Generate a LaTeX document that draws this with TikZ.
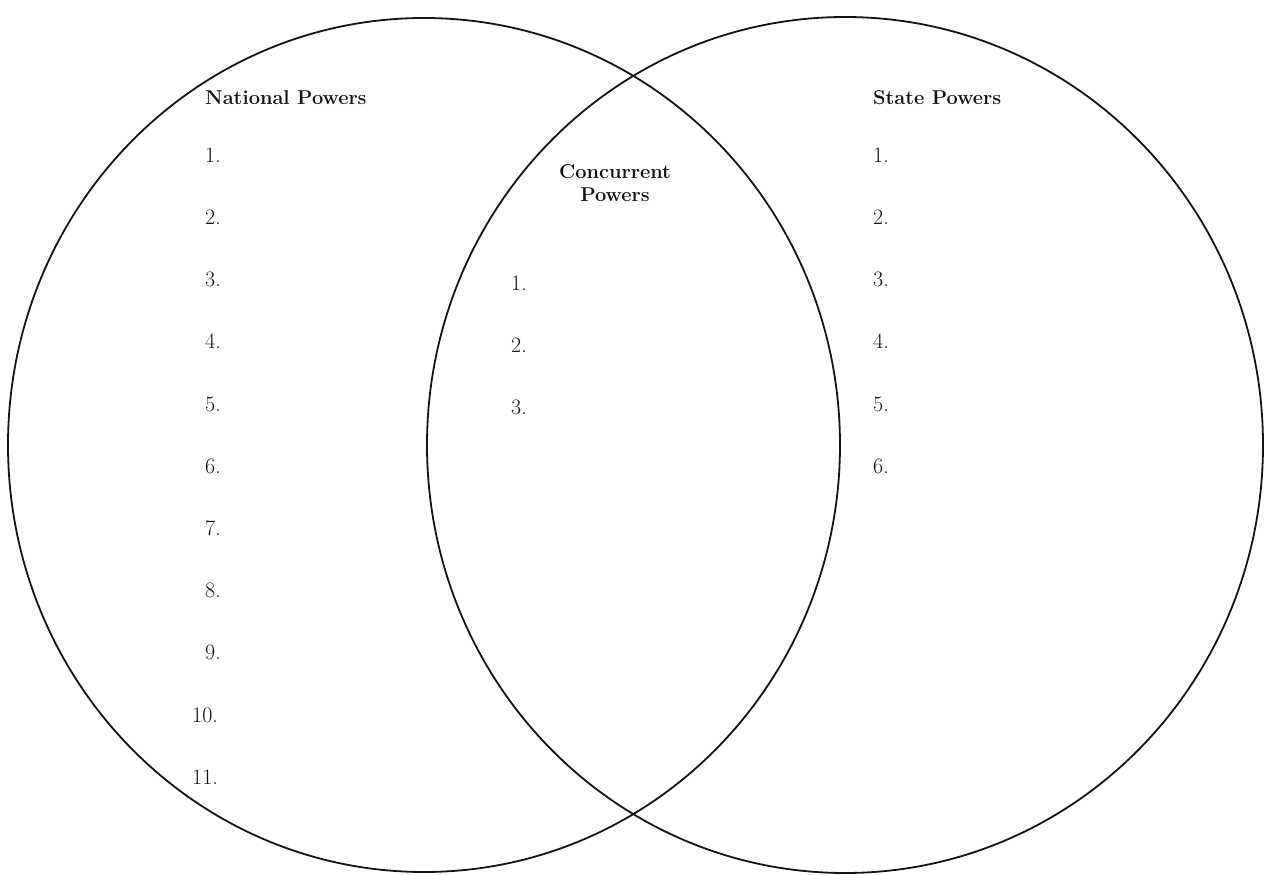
\documentclass[tikz,border=0pt]{standalone}
\usepackage{tikz}
\usetikzlibrary{positioning}
\definecolor{ink}{RGB}{20,20,20}

\begin{document}
\begin{tikzpicture}[x=1pt, y=-1pt, every node/.style={font=\fontsize{22}{25}\selectfont, text=ink, inner sep=0pt},
  head/.style={font=\fontsize{20}{23}\selectfont\bfseries, align=center},
  num/.style={anchor=base west},
  ring/.style={draw=ink, line width=1.8pt}]
  \useasboundingbox (0,0) rectangle (1270,875);
  \draw[ring] (424,445) ellipse [x radius=416pt, y radius=427pt];
  \draw[ring] (845,445) ellipse [x radius=418pt, y radius=428pt];
  \node[head, anchor=base west] (nat) at (205,104) {National Powers};
  \node[head, anchor=base west] (sta) at (873,104) {State Powers};
  \node[head] (con) at (615,183) {Concurrent\\Powers};
  \foreach \i in {1,...,9}
    \node[num] (nat\i) at (205,{100+62.2*\i}) {\i.};
  \foreach \i in {10,11}
    \node[num] (nat\i) at (192,{100+62.2*\i}) {\i.};
  \foreach \i in {1,2,3}
    \node[num] (con\i) at (511,{228+62*\i}) {\i.};
  \foreach \i in {1,...,6}
    \node[num] (sta\i) at (873,{100+62.2*\i}) {\i.};
\end{tikzpicture}
\end{document}
